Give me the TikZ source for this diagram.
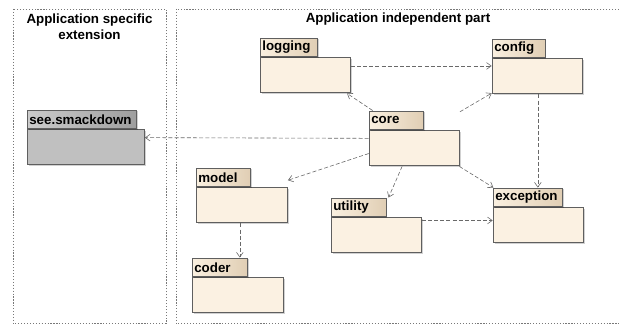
\documentclass[tikz,border=0pt]{standalone}
\usepackage{fontspec}
\setmainfont{Liberation Sans}
\usetikzlibrary{arrows.meta,calc,fit,shadows}

\definecolor{pkgline}{RGB}{95,95,95}
\definecolor{pkgfill}{RGB}{251,241,226}
\definecolor{tabL}{RGB}{250,240,224}
\definecolor{tabR}{RGB}{224,206,180}
\definecolor{extfill}{RGB}{192,192,192}
\definecolor{exttabL}{RGB}{204,204,204}
\definecolor{exttabR}{RGB}{158,158,158}
\definecolor{depgray}{RGB}{105,105,105}
\definecolor{framegray}{RGB}{120,120,120}

\begin{document}
\begin{tikzpicture}[x=0.75pt,y=0.75pt,yscale=-1,xscale=1,
		font=\fontsize{10pt}{12pt}\selectfont\bfseries,
		pkgshadow/.style={drop shadow={shadow xshift=0.9pt,shadow yshift=-0.9pt,fill=black,opacity=0.18}},
		pkgbody/.style={draw=pkgline,fill=pkgfill,line width=0.5pt,anchor=north west,inner sep=0pt,
			minimum width=67.5pt,minimum height=26.6pt,pkgshadow},
		pkgtab/.style={draw=pkgline,left color=tabL,right color=tabR,line width=0.5pt,anchor=south west,
			inner xsep=1.5pt,inner ysep=0pt,minimum height=13.9pt,align=left,text width=#1,pkgshadow},
		extbody/.style={pkgbody,fill=extfill},
		exttab/.style={pkgtab=#1,left color=exttabL,right color=exttabR},
		pkgbox/.style={inner sep=0pt},
		frame/.style={draw=framegray,line width=0.45pt,dash pattern=on 0.9pt off 1.3pt},
		dep/.style={draw=depgray,line width=0.45pt,dash pattern=on 3pt off 1.6pt,
			-{Straight Barb[length=3.5pt,width=5pt]}}]
	\useasboundingbox (0,0) rectangle (619,324);
	
	%Frames
	\draw[frame] (13,9) rectangle (166,323.5);
	\draw[frame] (176,9) rectangle (630,323.5);
	% Text Node
	\node[align=center] (title ext) at (89.5,26.5) {Application specific\\extension};
	% Text Node
	\node (title core) at (398,19) {Application independent part};
	
	%Package: logging
	\node[pkgbody] (logging body) at (260,57) {};
	\node[pkgtab=39.75pt] (logging tab) at (logging body.north west) {logging};
	\node[pkgbox,fit=(logging tab)(logging body)] (logging) {};
	%Package: config
	\node[pkgbody] (config body) at (492,58) {};
	\node[pkgtab=36.4pt] (config tab) at (config body.north west) {config};
	\node[pkgbox,fit=(config tab)(config body)] (config) {};
	%Package: core
	\node[pkgbody] (core body) at (369,130) {};
	\node[pkgtab=37.5pt] (core tab) at (core body.north west) {core};
	\node[pkgbox,fit=(core tab)(core body)] (core) {};
	%Package: see.smackdown
	\node[extbody,minimum width=87.75pt] (smack body) at (27,129) {};
	\node[exttab=78.75pt] (smack tab) at (smack body.north west) {see.smackdown};
	\node[pkgbox,fit=(smack tab)(smack body)] (smack) {};
	%Package: model
	\node[pkgbody,minimum width=68.25pt] (model body) at (196,187) {};
	\node[pkgtab=37.5pt] (model tab) at (model body.north west) {model};
	\node[pkgbox,fit=(model tab)(model body)] (model) {};
	%Package: coder
	\node[pkgbody,minimum width=68.25pt] (coder body) at (192,277) {};
	\node[pkgtab=38.25pt] (coder tab) at (coder body.north west) {coder};
	\node[pkgbox,fit=(coder tab)(coder body)] (coder) {};
	%Package: utility
	\node[pkgbody] (utility body) at (331,217) {};
	\node[pkgtab=37.9pt] (utility tab) at (utility body.north west) {utility};
	\node[pkgbox,fit=(utility tab)(utility body)] (utility) {};
	%Package: exception
	\node[pkgbody] (exception body) at (493,207) {};
	\node[pkgtab=49.1pt] (exception tab) at (exception body.north west) {exception};
	\node[pkgbox,fit=(exception tab)(exception body)] (exception) {};
	
	%Dependencies of core
	\draw[dep] (core) -- (smack);
	\draw[dep] (core) -- (logging);
	\draw[dep] (core) -- (config);
	\draw[dep] (core) -- (model);
	\draw[dep] (core) -- (utility);
	\draw[dep] (core) -- (exception);
	%Straight dependencies
	\coordinate (lc) at ($(logging)!0.5!(config)$);
	\draw[dep] (lc -| logging.east) -- (lc -| config.west);
	\coordinate (ce) at ($(config)!0.5!(exception)$);
	\draw[dep] (ce |- config.south) -- (ce |- exception.north);
	\coordinate (ue) at ($(utility)!0.5!(exception)$);
	\draw[dep] (ue -| utility.east) -- (ue -| exception.west);
	\coordinate (mc) at ($(model)!0.5!(coder)$);
	\draw[dep] (mc |- model.south) -- (mc |- coder.north);
	
\end{tikzpicture}
\end{document}
